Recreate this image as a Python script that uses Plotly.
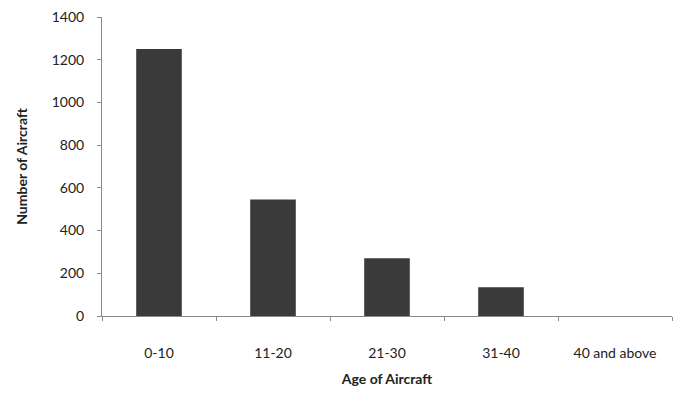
import plotly.graph_objects as go

categories = ["0-10", "11-20", "21-30", "31-40", "40 and above"]
counts = [1250, 545, 270, 135, 0]
y_ticks = [0, 200, 400, 600, 800, 1000, 1200, 1400]

font_family = "Lato, 'Open Sans', sans-serif"

fig = go.Figure()
fig.add_trace(go.Bar(
    x=categories,
    y=counts,
    marker=dict(color="#3a3a3a", line=dict(width=0)),
    width=0.4,
))

fig.update_layout(
    width=673,
    height=401,
    margin=dict(l=102, r=1, t=17, b=85),
    paper_bgcolor="white",
    plot_bgcolor="white",
    showlegend=False,
    font=dict(family=font_family, size=14, color="#222222"),
)

fig.update_xaxes(
    type="category",
    showline=True,
    linecolor="#8a8a8a",
    linewidth=1,
    ticks="outside",
    tickson="boundaries",
    ticklen=4,
    tickcolor="#8a8a8a",
    showgrid=False,
    tickfont=dict(size=14, color="#222222"),
    ticklabelstandoff=24,
    title=dict(text="<b>Age of Aircraft</b>", font=dict(size=14, color="#222222"), standoff=14),
)

fig.update_yaxes(
    range=[0, 1400],
    tickvals=y_ticks,
    showline=True,
    linecolor="#8a8a8a",
    linewidth=1,
    ticks="outside",
    ticklen=4,
    tickcolor="#8a8a8a",
    showgrid=False,
    zeroline=False,
    tickfont=dict(size=14, color="#222222"),
    ticklabelstandoff=10,
    title=dict(text="<b>Number of Aircraft</b>", font=dict(size=14, color="#222222"), standoff=20),
)

fig.write_html("out.html")
